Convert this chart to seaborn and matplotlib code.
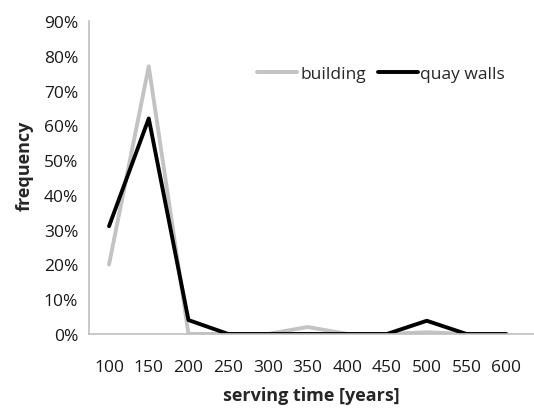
import pandas as pd
import seaborn as sns
import matplotlib.pyplot as plt
from matplotlib.ticker import PercentFormatter

# Data
serving_time = ["100", "150", "200", "250", "300", "350", "400", "450", "500", "550", "600"]
building = [20, 77, 0, 0, 0, 2, 0, 0, 0.5, 0, 0]
quay_walls = [31, 62, 4, 0, 0, 0, 0, 0, 3.8, 0, 0]

df = pd.DataFrame({
    "pos": list(range(len(serving_time))) * 2,
    "frequency": building + quay_walls,
    "series": ["building"] * len(building) + ["quay walls"] * len(quay_walls),
})

sns.set_style("white")
plt.rcParams["font.family"] = ["Open Sans", "DejaVu Sans"]

fig = plt.figure(figsize=(5.34, 4.10), dpi=100)
ax = fig.add_axes([0.167, 0.183, 0.833, 0.763])

sns.lineplot(
    data=df, x="pos", y="frequency", hue="series",
    palette={"building": "#c3c3c3", "quay walls": "black"},
    linewidth=2.8, ax=ax
)

ax.set_xlim(-0.5, 10.7)
ax.set_ylim(0, 90)
ax.set_xticks(range(len(serving_time)))
ax.set_xticklabels(serving_time)
ax.set_yticks(range(0, 91, 10))
ax.yaxis.set_major_formatter(PercentFormatter(decimals=0))
ax.tick_params(axis="both", length=0, labelsize=12.5, colors="#1a1a1a")
ax.tick_params(axis="x", pad=18)
ax.tick_params(axis="y", pad=8)

for side in ["top", "right"]:
    ax.spines[side].set_visible(False)
for side in ["left", "bottom"]:
    ax.spines[side].set_color("#bfbfbf")
    ax.spines[side].set_linewidth(1.2)

ax.set_xlabel("serving time [years]", fontsize=13, fontweight="bold", labelpad=8)
ax.set_ylabel("frequency", fontsize=13, fontweight="bold")
ax.yaxis.set_label_coords(-0.126, 0.54)

ax.legend(
    title=None, ncol=2, frameon=False, fontsize=12.5,
    loc="center right", bbox_to_anchor=(0.935, 0.83),
    borderpad=0, borderaxespad=0,
    handlelength=2.3, handletextpad=0.15, columnspacing=0.7
)

fig.savefig("out.png", dpi=100)
